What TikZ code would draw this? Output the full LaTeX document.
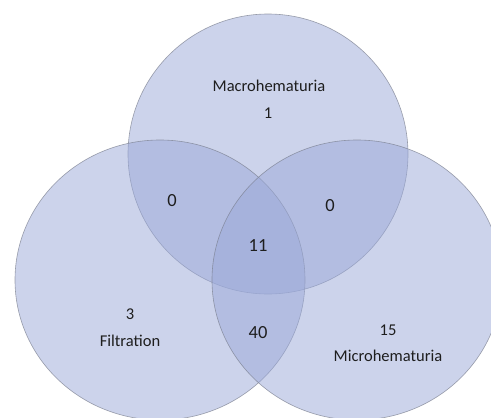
\documentclass[tikz,border=0pt]{standalone}
\usepackage{fontspec}
\setmainfont{Carlito}
\usepackage{tikz}

\definecolor{vennfill}{RGB}{155,169,217}
\definecolor{vennline}{RGB}{120,125,140}
\definecolor{venntext}{RGB}{30,30,30}

\tikzset{
  setshape/.style={fill=vennfill, fill opacity=0.5, draw=vennline, draw opacity=0.7, line width=0.6pt},
  setname/.style={text=venntext, font=\fontsize{16.5}{18}\selectfont, inner sep=0pt},
  smallcount/.style={text=venntext, font=\fontsize{16.5}{18}\selectfont, inner sep=0pt},
  bigcount/.style={text=venntext, font=\fontsize{18.5}{20}\selectfont, inner sep=0pt}
}

\begin{document}
\begin{tikzpicture}[x=1pt, y=-1pt]

\useasboundingbox (0,0) rectangle (491,418);
\clip (0,0) rectangle (491,418);

\coordinate (Top) at (268, 154);
\coordinate (Left) at (160, 280);
\coordinate (Right) at (357, 280);

\fill[white] (0,0) rectangle (491,418);

\draw[setshape] (Top) circle [radius=140];
\draw[setshape] (Left) ellipse [x radius=145, y radius=140];
\draw[setshape] (Right) ellipse [x radius=145, y radius=140];

\node[setname] (macro) at (269, 86) {Macrohematuria};
\node[smallcount] (macroonly) at (268, 113) {1};
\node[bigcount] (macrofilt) at (172, 201) {0};
\node[bigcount] (macromicro) at (330, 206) {0};
\node[bigcount] (all) at (258, 246) {11};
\node[smallcount] (filtonly) at (130, 314) {3};
\node[setname] (filt) at (130, 341) {Filtration};
\node[bigcount] (filtmicro) at (258, 333) {40};
\node[smallcount] (microonly) at (388, 330) {15};
\node[setname] (micro) at (388, 356) {Microhematuria};

\end{tikzpicture}
\end{document}
